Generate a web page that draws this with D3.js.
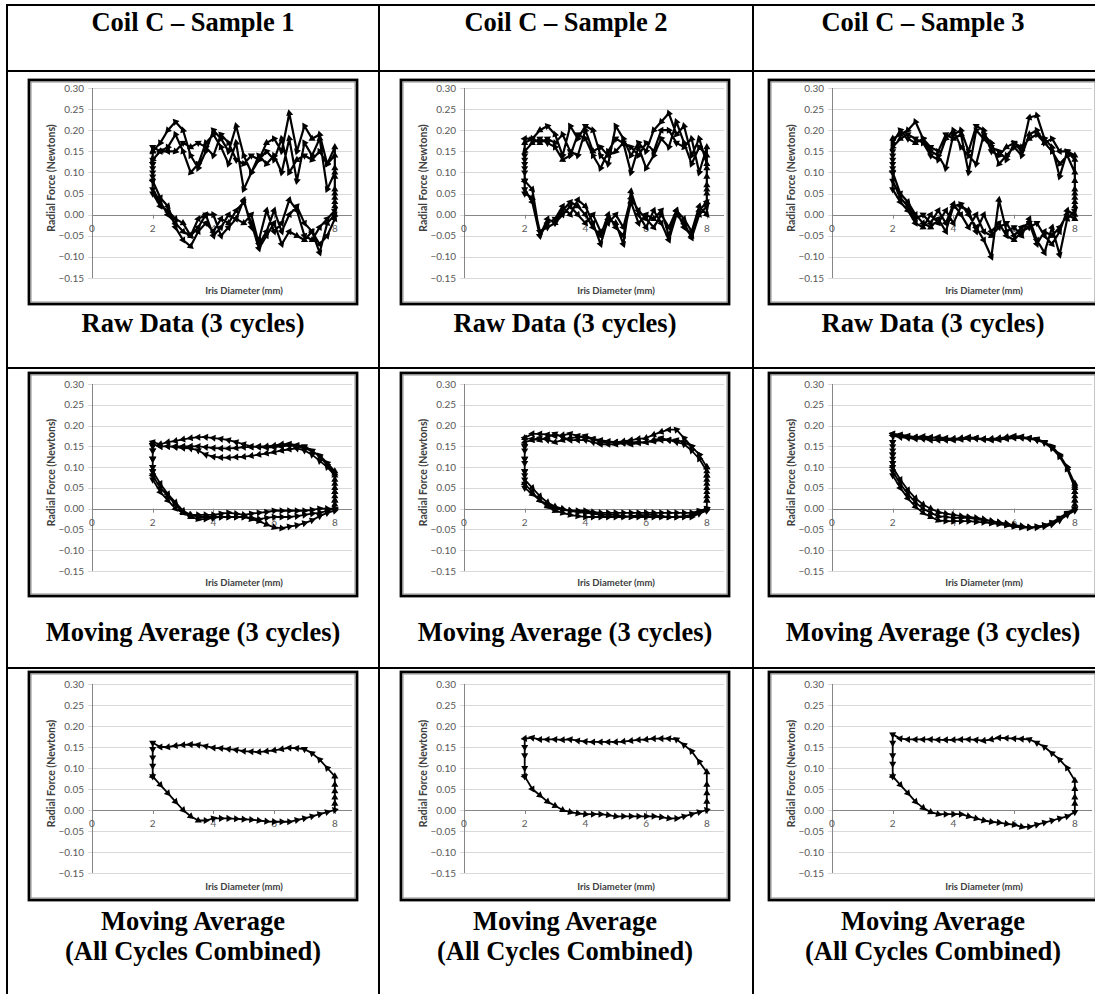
<!DOCTYPE html>
<html>
<head>
<meta charset="utf-8">
<script src="https://cdn.jsdelivr.net/npm/d3@7"></script>
<style>
  body { margin: 0; background: #fff; }
  .cap { font-family: "Liberation Serif", "Times New Roman", serif; font-weight: bold; font-size: 26.5px; fill: #000; }
  .tick { font-family: Lato, "Open Sans", sans-serif; font-size: 10px; fill: #595959; }
  .atitle { font-family: Lato, "Open Sans", sans-serif; font-weight: bold; fill: #404040; }
</style>
</head>
<body>
<div id="sheet"></div>
<script>
"use strict";

const irisX = [2.00, 2.25, 2.50, 2.75, 3.00, 3.25, 3.50, 3.75, 4.00, 4.25, 4.50, 4.75, 5.00,
               5.25, 5.50, 5.75, 6.00, 6.25, 6.50, 6.75, 7.00, 7.25, 7.50, 7.75, 8.00];

const sampleTitles = ["Coil C \u2013 Sample 1", "Coil C \u2013 Sample 2", "Coil C \u2013 Sample 3"];
const rowCaptions = [["Raw Data (3 cycles)"], ["Moving Average (3 cycles)"], ["Moving Average", "(All Cycles Combined)"]];
const yTicks = [-0.15, -0.10, -0.05, 0.00, 0.05, 0.10, 0.15, 0.20, 0.25, 0.30];
const xTicks = [0, 2, 4, 6, 8];

// Radial force (N). "Lower" = opening branch (2 -> 8 mm), "Upper" = closing branch (8 -> 2 mm),
// both listed in irisX order. "Right" = points at 8 mm between them, "Left" = points at 2 mm going down.

// --- raw data, 3 cycles per sample
const rawLower1 = [
  [0.08, 0.04, 0.02, -0.03, -0.06, -0.075, -0.04, -0.02, -0.04, -0.01, -0.02, 0.01, 0.03, -0.02, -0.08, -0.05, -0.02, -0.07, -0.04, -0.05, -0.06, -0.04, -0.09, -0.02, 0.00],
  [0.06, 0.03, 0.00, -0.02, -0.04, -0.05, -0.01, 0.00, -0.05, -0.03, 0.00, -0.01, 0.035, -0.03, -0.06, 0.01, -0.04, -0.02, 0.035, 0.01, -0.05, -0.06, -0.03, -0.01, 0.01],
  [0.05, 0.02, 0.01, -0.01, -0.02, -0.05, -0.03, 0.00, 0.00, -0.05, -0.03, -0.01, -0.02, 0.00, -0.07, -0.04, 0.01, -0.04, 0.00, 0.02, -0.02, -0.04, -0.07, -0.05, -0.01]];
const rawUpper1 = [
  [0.15, 0.17, 0.20, 0.22, 0.20, 0.14, 0.11, 0.15, 0.20, 0.18, 0.15, 0.21, 0.14, 0.10, 0.13, 0.17, 0.18, 0.15, 0.24, 0.15, 0.21, 0.18, 0.19, 0.12, 0.14],
  [0.13, 0.15, 0.16, 0.19, 0.15, 0.10, 0.12, 0.17, 0.19, 0.16, 0.12, 0.17, 0.06, 0.10, 0.14, 0.12, 0.14, 0.10, 0.18, 0.08, 0.17, 0.14, 0.18, 0.06, 0.10],
  [0.16, 0.15, 0.15, 0.15, 0.17, 0.16, 0.17, 0.16, 0.14, 0.19, 0.17, 0.13, 0.12, 0.14, 0.13, 0.15, 0.13, 0.18, 0.10, 0.13, 0.14, 0.13, 0.15, 0.12, 0.16]];
const rawRight1 = [[0.02, 0.06, 0.11], [0.03, 0.05], [0.00, 0.04, 0.09]];
const rawLeft1 = [[0.13, 0.11], [0.15, 0.12, 0.09], [0.12, 0.10]];

const rawLower2 = [
  [0.08, 0.06, -0.05, -0.02, -0.01, 0.02, 0.00, 0.035, 0.02, -0.02, -0.07, -0.01, -0.02, -0.07, 0.055, 0.00, -0.03, 0.01, -0.02, -0.06, 0.00, -0.02, -0.055, 0.00, 0.02],
  [0.05, 0.04, -0.04, -0.03, -0.02, 0.00, 0.02, 0.00, -0.02, 0.00, -0.04, -0.02, 0.00, -0.03, 0.04, 0.01, -0.01, -0.03, 0.00, -0.03, 0.01, -0.01, -0.04, 0.02, 0.00],
  [0.06, 0.03, -0.05, -0.01, -0.02, 0.01, 0.03, 0.02, 0.00, -0.03, -0.05, 0.00, -0.03, -0.05, 0.03, -0.02, 0.00, -0.01, 0.01, -0.05, 0.01, -0.03, -0.05, 0.01, 0.03]];
const rawUpper2 = [
  [0.17, 0.18, 0.20, 0.21, 0.19, 0.14, 0.21, 0.18, 0.21, 0.20, 0.14, 0.12, 0.21, 0.18, 0.14, 0.17, 0.15, 0.20, 0.22, 0.24, 0.19, 0.21, 0.14, 0.18, 0.12],
  [0.15, 0.17, 0.18, 0.17, 0.16, 0.13, 0.14, 0.19, 0.18, 0.14, 0.11, 0.15, 0.18, 0.17, 0.10, 0.16, 0.11, 0.14, 0.18, 0.16, 0.22, 0.17, 0.12, 0.16, 0.14],
  [0.18, 0.18, 0.17, 0.18, 0.17, 0.19, 0.15, 0.14, 0.20, 0.15, 0.16, 0.14, 0.15, 0.17, 0.16, 0.14, 0.17, 0.15, 0.20, 0.20, 0.17, 0.16, 0.18, 0.10, 0.16]];
const rawRight2 = [[0.05, 0.09], [0.03, 0.07], [0.06, 0.11]];
const rawLeft2 = [[0.13, 0.10], [0.12, 0.08], [0.14, 0.11]];

const rawLower3 = [
  [0.10, 0.05, 0.03, 0.00, -0.02, -0.03, -0.01, -0.04, 0.02, 0.025, 0.00, -0.03, -0.06, -0.10, 0.035, -0.04, -0.03, -0.05, -0.01, -0.06, -0.09, -0.03, -0.095, -0.01, 0.01],
  [0.08, 0.04, 0.02, -0.01, 0.00, -0.02, 0.01, -0.02, 0.025, 0.00, -0.03, 0.00, -0.04, -0.05, -0.03, -0.02, -0.05, -0.03, -0.02, -0.07, -0.04, -0.05, -0.03, 0.00, -0.01],
  [0.06, 0.03, 0.01, -0.02, -0.03, 0.00, -0.02, 0.01, -0.02, 0.02, 0.01, -0.04, 0.00, -0.04, -0.02, -0.05, -0.06, -0.04, -0.03, -0.02, -0.05, -0.07, -0.04, 0.01, 0.00]];
const rawUpper3 = [
  [0.18, 0.19, 0.20, 0.22, 0.18, 0.15, 0.14, 0.11, 0.19, 0.20, 0.15, 0.21, 0.20, 0.15, 0.14, 0.16, 0.17, 0.15, 0.23, 0.235, 0.18, 0.16, 0.09, 0.15, 0.13],
  [0.16, 0.18, 0.19, 0.18, 0.17, 0.14, 0.13, 0.18, 0.20, 0.16, 0.14, 0.12, 0.19, 0.17, 0.12, 0.14, 0.16, 0.14, 0.19, 0.20, 0.17, 0.15, 0.12, 0.14, 0.10],
  [0.17, 0.20, 0.18, 0.17, 0.18, 0.16, 0.15, 0.19, 0.18, 0.19, 0.10, 0.20, 0.18, 0.16, 0.15, 0.13, 0.17, 0.16, 0.18, 0.19, 0.17, 0.18, 0.15, 0.15, 0.14]];
const rawRight3 = [[0.03, 0.06], [0.02, 0.05], [0.04, 0.08]];
const rawLeft3 = [[0.14, 0.11], [0.13, 0.10], [0.15, 0.12]];

// --- moving average, 3 cycles per sample
const avgLower1 = [
  [0.08, 0.05, 0.03, 0.01, -0.01, -0.02, -0.025, -0.025, -0.022, -0.02, -0.02, -0.02, -0.02, -0.022, -0.025, -0.022, -0.02, -0.02, -0.02, -0.018, -0.015, -0.012, -0.01, -0.005, 0.00],
  [0.07, 0.04, 0.02, 0.00, -0.01, -0.015, -0.015, -0.015, -0.015, -0.012, -0.01, -0.012, -0.015, -0.012, -0.01, -0.008, -0.005, -0.005, -0.005, -0.005, -0.005, -0.003, 0.00, 0.00, 0.00],
  [0.09, 0.06, 0.035, 0.015, -0.005, -0.015, -0.02, -0.02, -0.02, -0.02, -0.02, -0.02, -0.02, -0.025, -0.03, -0.038, -0.045, -0.047, -0.043, -0.04, -0.035, -0.028, -0.018, -0.01, -0.005]];
const avgUpper1 = [
  [0.155, 0.15, 0.15, 0.15, 0.15, 0.15, 0.15, 0.148, 0.146, 0.145, 0.145, 0.146, 0.148, 0.148, 0.15, 0.15, 0.152, 0.155, 0.156, 0.153, 0.15, 0.14, 0.125, 0.105, 0.085],
  [0.16, 0.155, 0.16, 0.163, 0.167, 0.17, 0.172, 0.172, 0.17, 0.168, 0.165, 0.16, 0.155, 0.15, 0.148, 0.147, 0.148, 0.15, 0.152, 0.15, 0.146, 0.138, 0.128, 0.11, 0.09],
  [0.155, 0.15, 0.15, 0.148, 0.146, 0.145, 0.14, 0.13, 0.125, 0.123, 0.123, 0.124, 0.125, 0.127, 0.13, 0.133, 0.136, 0.14, 0.143, 0.145, 0.14, 0.13, 0.115, 0.10, 0.08]];
const avgRight1 = [[0.02, 0.04, 0.06], [0.02, 0.04, 0.07], [0.01, 0.03, 0.05]];
const avgLeft1 = [[0.14, 0.12, 0.10], [0.15, 0.12, 0.09], [0.14, 0.12, 0.10]];

const avgLower2 = [
  [0.06, 0.04, 0.02, 0.01, 0.00, -0.003, -0.005, -0.008, -0.01, -0.012, -0.015, -0.015, -0.015, -0.018, -0.02, -0.02, -0.02, -0.02, -0.02, -0.02, -0.02, -0.018, -0.015, -0.008, 0.00],
  [0.07, 0.05, 0.03, 0.015, 0.005, 0.00, -0.005, -0.005, -0.005, -0.008, -0.01, -0.01, -0.01, -0.01, -0.01, -0.01, -0.01, -0.01, -0.01, -0.01, -0.01, -0.01, -0.01, -0.005, 0.00],
  [0.05, 0.035, 0.02, 0.005, -0.005, -0.01, -0.015, -0.018, -0.02, -0.02, -0.02, -0.02, -0.02, -0.02, -0.018, -0.016, -0.015, -0.015, -0.018, -0.02, -0.02, -0.02, -0.02, -0.012, -0.005]];
const avgUpper2 = [
  [0.17, 0.18, 0.18, 0.178, 0.175, 0.177, 0.18, 0.175, 0.17, 0.168, 0.165, 0.162, 0.16, 0.162, 0.165, 0.168, 0.17, 0.178, 0.185, 0.19, 0.19, 0.17, 0.15, 0.13, 0.10],
  [0.16, 0.165, 0.17, 0.165, 0.16, 0.165, 0.17, 0.172, 0.175, 0.168, 0.16, 0.16, 0.16, 0.158, 0.155, 0.158, 0.16, 0.162, 0.165, 0.165, 0.165, 0.16, 0.15, 0.13, 0.10],
  [0.17, 0.168, 0.165, 0.172, 0.18, 0.172, 0.165, 0.165, 0.165, 0.16, 0.155, 0.155, 0.155, 0.158, 0.16, 0.16, 0.16, 0.165, 0.17, 0.165, 0.16, 0.155, 0.14, 0.12, 0.09]];
const avgRight2 = [[0.02, 0.05, 0.08], [0.03, 0.06, 0.08], [0.02, 0.04, 0.07]];
const avgLeft2 = [[0.15, 0.12, 0.09], [0.14, 0.11, 0.09], [0.15, 0.12, 0.08]];

const avgLower3 = [
  [0.10, 0.07, 0.045, 0.025, 0.01, 0.00, -0.008, -0.012, -0.015, -0.018, -0.02, -0.022, -0.025, -0.03, -0.033, -0.036, -0.04, -0.043, -0.045, -0.043, -0.04, -0.035, -0.025, -0.012, 0.00],
  [0.09, 0.06, 0.035, 0.015, 0.00, -0.01, -0.018, -0.02, -0.022, -0.022, -0.022, -0.025, -0.028, -0.03, -0.033, -0.036, -0.04, -0.042, -0.045, -0.045, -0.043, -0.038, -0.028, -0.015, -0.005],
  [0.08, 0.05, 0.025, 0.005, -0.01, -0.02, -0.028, -0.03, -0.03, -0.03, -0.03, -0.032, -0.033, -0.035, -0.037, -0.04, -0.043, -0.045, -0.046, -0.045, -0.04, -0.033, -0.022, -0.01, 0.00]];
const avgUpper3 = [
  [0.18, 0.178, 0.175, 0.172, 0.17, 0.17, 0.172, 0.17, 0.168, 0.168, 0.17, 0.17, 0.168, 0.167, 0.168, 0.17, 0.172, 0.172, 0.17, 0.168, 0.16, 0.15, 0.13, 0.10, 0.06],
  [0.175, 0.172, 0.17, 0.168, 0.168, 0.165, 0.165, 0.165, 0.165, 0.167, 0.168, 0.168, 0.166, 0.165, 0.166, 0.168, 0.17, 0.17, 0.168, 0.165, 0.158, 0.145, 0.125, 0.095, 0.05],
  [0.18, 0.176, 0.173, 0.172, 0.174, 0.172, 0.17, 0.168, 0.168, 0.17, 0.172, 0.17, 0.168, 0.168, 0.17, 0.172, 0.175, 0.173, 0.17, 0.166, 0.16, 0.148, 0.128, 0.10, 0.055]];
const avgRight3 = [[0.02, 0.04], [0.01, 0.03], [0.02, 0.04]];
const avgLeft3 = [[0.16, 0.14, 0.12], [0.15, 0.13, 0.11], [0.16, 0.13, 0.11]];

// --- moving average, all cycles combined (one loop per sample)
const allLower1 = [[0.08, 0.06, 0.04, 0.02, 0.00, -0.015, -0.025, -0.025, -0.02, -0.02, -0.02, -0.021, -0.022, -0.023, -0.025, -0.027, -0.028, -0.028, -0.028, -0.024, -0.02, -0.015, -0.01, -0.005, 0.00]];
const allUpper1 = [[0.16, 0.15, 0.15, 0.153, 0.155, 0.156, 0.155, 0.152, 0.148, 0.147, 0.145, 0.143, 0.14, 0.139, 0.138, 0.14, 0.142, 0.145, 0.148, 0.147, 0.145, 0.135, 0.12, 0.10, 0.08]];
const allRight1 = [[0.015, 0.03, 0.045, 0.06]];
const allLeft1 = [[0.145, 0.125, 0.105]];

const allLower2 = [[0.08, 0.05, 0.035, 0.02, 0.01, 0.00, -0.005, -0.008, -0.01, -0.01, -0.01, -0.012, -0.015, -0.015, -0.015, -0.015, -0.015, -0.015, -0.017, -0.02, -0.02, -0.015, -0.01, -0.005, 0.00]];
const allUpper2 = [[0.17, 0.172, 0.168, 0.168, 0.168, 0.167, 0.168, 0.165, 0.163, 0.162, 0.162, 0.162, 0.162, 0.163, 0.165, 0.167, 0.168, 0.17, 0.17, 0.17, 0.168, 0.155, 0.14, 0.115, 0.09]];
const allRight2 = [[0.02, 0.04, 0.06]];
const allLeft2 = [[0.15, 0.13, 0.10]];

const allLower3 = [[0.08, 0.06, 0.04, 0.02, 0.005, -0.005, -0.01, -0.01, -0.01, -0.01, -0.015, -0.02, -0.025, -0.028, -0.03, -0.033, -0.035, -0.04, -0.04, -0.035, -0.03, -0.025, -0.02, -0.015, -0.005]];
const allUpper3 = [[0.18, 0.17, 0.168, 0.168, 0.168, 0.168, 0.167, 0.167, 0.167, 0.168, 0.168, 0.167, 0.165, 0.168, 0.172, 0.171, 0.17, 0.169, 0.168, 0.16, 0.15, 0.135, 0.12, 0.10, 0.07]];
const allRight3 = [[0.015, 0.03, 0.05]];
const allLeft3 = [[0.16, 0.13, 0.11]];

// chart list: [row][col]
const chartData = [
  [[rawLower1, rawUpper1, rawRight1, rawLeft1], [rawLower2, rawUpper2, rawRight2, rawLeft2], [rawLower3, rawUpper3, rawRight3, rawLeft3]],
  [[avgLower1, avgUpper1, avgRight1, avgLeft1], [avgLower2, avgUpper2, avgRight2, avgLeft2], [avgLower3, avgUpper3, avgRight3, avgLeft3]],
  [[allLower1, allUpper1, allRight1, allLeft1], [allLower2, allUpper2, allRight2, allLeft2], [allLower3, allUpper3, allRight3, allLeft3]]
];

// ---------------- layout
var width = 1095, height = 994;
const colX = [7, 379, 753];             // table column lines
const rowY = [5, 71, 368, 668];          // table row lines
const headerCx = [193, 566, 923];
const chartLeft = [29, 401, 769];
const chartW = 328;
const chartTop = [80, 373, 672];
const chartBot = [304, 596, 900];
const gridTop = [88, 384, 684];
const gridBot = [278, 571, 873];
const capBase = [[332], [641], [930, 960]];

const svg = d3.select("#sheet").append("svg")
  .attr("width", width)
  .attr("height", height);

// table rules
svg.append("g").selectAll("line").data(colX).join("line")
  .attr("x1", d => d).attr("x2", d => d).attr("y1", rowY[0] - 1).attr("y2", height)
  .attr("stroke", "#000").attr("stroke-width", 2);
svg.append("g").selectAll("line").data(rowY).join("line")
  .attr("x1", colX[0] - 1).attr("x2", width).attr("y1", d => d).attr("y2", d => d)
  .attr("stroke", "#000").attr("stroke-width", 2);

svg.append("g").selectAll("text").data(sampleTitles).join("text")
  .attr("class", "cap")
  .attr("x", (d, i) => headerCx[i]).attr("y", 31)
  .attr("text-anchor", "middle")
  .text(d => d);

const tri = d3.symbol().type(d3.symbolTriangle).size(22)();

for (let r = 0; r < 3; r++) {
  for (let c = 0; c < 3; c++) {
    drawChart(r, c, chartData[r][c]);
    rowCaptions[r].forEach((t, k) => {
      svg.append("text").attr("class", "cap")
        .attr("x", chartLeft[c] + chartW / 2).attr("y", capBase[r][k])
        .attr("text-anchor", "middle").text(t);
    });
  }
}

// one polyline through all cycles: opening, rise at 8 mm, closing, drop at 2 mm
function buildPoints(lower, upper, right, left) {
  const pts = [];
  lower.forEach((low, k) => {
    irisX.forEach((x, i) => pts.push([x, low[i]]));
    right[k].forEach(f => pts.push([8, f]));
    for (let i = irisX.length - 1; i >= 0; i--) pts.push([irisX[i], upper[k][i]]);
    left[k].forEach(f => pts.push([2, f]));
  });
  pts.push(pts[0]);   // loop closes where it started
  return pts;
}

function drawChart(r, c, series) {
  const left = chartLeft[c], top = chartTop[r];
  const g = svg.append("g");

  const x = d3.scaleLinear().domain([0, 8.5]).range([left + 63, left + 321]);
  const y = d3.scaleLinear().domain([-0.15, 0.30]).range([gridBot[r], gridTop[r]]);

  // frame
  g.append("rect").attr("x", left).attr("y", top)
    .attr("width", chartW).attr("height", chartBot[r] - top)
    .attr("fill", "#fff").attr("stroke", "#000").attr("stroke-width", 2.8);
  g.append("rect").attr("x", left + 2).attr("y", top + 2)
    .attr("width", chartW - 4).attr("height", chartBot[r] - top - 4)
    .attr("fill", "none").attr("stroke", "#8a8a8a").attr("stroke-width", 1);

  // gridlines
  g.append("g").selectAll("line").data(yTicks).join("line")
    .attr("x1", x(0) - 4).attr("x2", left + 323)
    .attr("y1", d => Math.round(y(d)) + 0.5).attr("y2", d => Math.round(y(d)) + 0.5)
    .attr("stroke", "#d9d9d9");
  g.append("g").selectAll("text").data(yTicks).join("text")
    .attr("class", "tick")
    .attr("x", x(0) - 8).attr("y", d => y(d) + 3.5)
    .attr("text-anchor", "end")
    .text(d => d3.format(".2f")(d));

  // axes
  g.append("line").attr("x1", Math.round(x(0)) + 0.5).attr("x2", Math.round(x(0)) + 0.5)
    .attr("y1", y(0.30)).attr("y2", y(-0.15)).attr("stroke", "#868686");
  g.append("line").attr("x1", x(0)).attr("x2", left + 323)
    .attr("y1", Math.round(y(0)) + 0.5).attr("y2", Math.round(y(0)) + 0.5).attr("stroke", "#868686");
  g.append("g").selectAll("line").data(xTicks).join("line")
    .attr("x1", d => Math.round(x(d)) + 0.5).attr("x2", d => Math.round(x(d)) + 0.5)
    .attr("y1", y(0)).attr("y2", y(0) + 4).attr("stroke", "#868686");
  g.append("g").selectAll("text").data(xTicks).join("text")
    .attr("class", "tick")
    .attr("x", d => x(d)).attr("y", y(0) + 17)
    .attr("text-anchor", "middle")
    .text(d => d);

  g.append("text").attr("class", "atitle")
    .attr("font-size", 10.5)
    .attr("transform", `translate(${left + 26},${(gridTop[r] + gridBot[r]) / 2 - 5}) rotate(-90)`)
    .attr("text-anchor", "middle")
    .text("Radial Force (Newtons)");
  g.append("text").attr("class", "atitle")
    .attr("font-size", 9.5)
    .attr("x", left + 215).attr("y", chartBot[r] - 10)
    .attr("text-anchor", "middle")
    .text("Iris Diameter (mm)");

  // loop trace
  const pts = buildPoints(series[0], series[1], series[2], series[3]);
  const line = d3.line().x(d => x(d[0])).y(d => y(d[1]));
  g.append("path").attr("d", line(pts))
    .attr("fill", "none").attr("stroke", "#000")
    .attr("stroke-width", r === 0 ? 2.2 : 1.8)
    .attr("stroke-linejoin", "round");

  // arrowheads pointing along the direction of travel
  let angle = 0;
  const marks = pts.map((p, i) => {
    const q = i > 0 ? pts[i - 1] : pts[1];
    const dx = x(p[0]) - x(q[0]), dy = y(p[1]) - y(q[1]);
    if (dx !== 0 || dy !== 0) angle = Math.atan2(dy, dx) * 180 / Math.PI + (i > 0 ? 0 : 180);
    return {px: x(p[0]), py: y(p[1]), a: angle};
  });
  g.append("g").selectAll("path").data(marks).join("path")
    .attr("d", tri)
    .attr("transform", d => `translate(${d.px},${d.py}) rotate(${d.a + 90})`)
    .attr("fill", "#000");
}
</script>
</body>
</html>
